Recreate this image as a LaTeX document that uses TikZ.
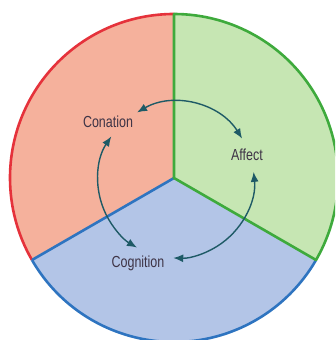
\documentclass[tikz,border=0pt]{standalone}
\usepackage{fontspec}
\setmainfont{Liberation Sans}[FakeStretch=0.78]
\usetikzlibrary{arrows.meta}
\definecolor{redfill}{HTML}{F5B19C}
\definecolor{redline}{HTML}{E5323B}
\definecolor{greenfill}{HTML}{C6E6B3}
\definecolor{greenline}{HTML}{3EAA3C}
\definecolor{bluefill}{HTML}{B3C5E7}
\definecolor{blueline}{HTML}{2E74C0}
\definecolor{arrowcol}{HTML}{1E5A66}
\definecolor{labelcol}{HTML}{3E3446}
\tikzset{
  rim/.style={line width=2.6pt},
  label/.style={font=\fontsize{16}{18}\selectfont, text=labelcol, inner sep=1pt},
  cycle/.style={draw=arrowcol, line width=1.4pt, {Latex[length=10pt,width=8pt]}-{Latex[length=10pt,width=8pt]}}
}
\begin{document}
\begin{tikzpicture}[x=1pt,y=1pt]
\useasboundingbox (0,0) rectangle (335,340);
\clip (0,0) rectangle (335,340);
\coordinate (o) at (174,162);
\def\R{164}
% three sectors
\fill[redfill] (o) -- ++(90:\R) arc[start angle=90,end angle=210,radius=\R] -- cycle;
\fill[greenfill] (o) -- ++(-30:\R) arc[start angle=-30,end angle=90,radius=\R] -- cycle;
\fill[bluefill] (o) -- ++(210:\R) arc[start angle=210,end angle=330,radius=\R] -- cycle;
% rims and dividers
\draw[rim, redline] (o) ++(90:\R) arc[start angle=90,end angle=210,radius=\R];
\draw[rim, blueline] (o) ++(210:\R) arc[start angle=210,end angle=330,radius=\R];
\draw[rim, blueline] (o) -- ++(210:\R);
\draw[rim, greenline] (o) ++(-30:\R) arc[start angle=-30,end angle=90,radius=\R];
\draw[rim, greenline, line cap=round] (o) ++(90:\R) -- (o) -- ++(-30:\R);
% labels
\node[label] (conation) at (108,218) {Conation};
\node[label] (affect) at (247,185) {Affect};
\node[label] (cognition) at (138,77) {Cognition};
% cycle of influences
\coordinate (c) at (176,160);
\def\r{78}
\draw[cycle] (c) ++(120:\r) arc[start angle=120,end angle=32,radius=\r];
\draw[cycle] (c) ++(6:\r) arc[start angle=6,end angle=-92,radius=\r];
\draw[cycle] (c) ++(146:\r) arc[start angle=146,end angle=240,radius=\r];
\end{tikzpicture}
\end{document}
